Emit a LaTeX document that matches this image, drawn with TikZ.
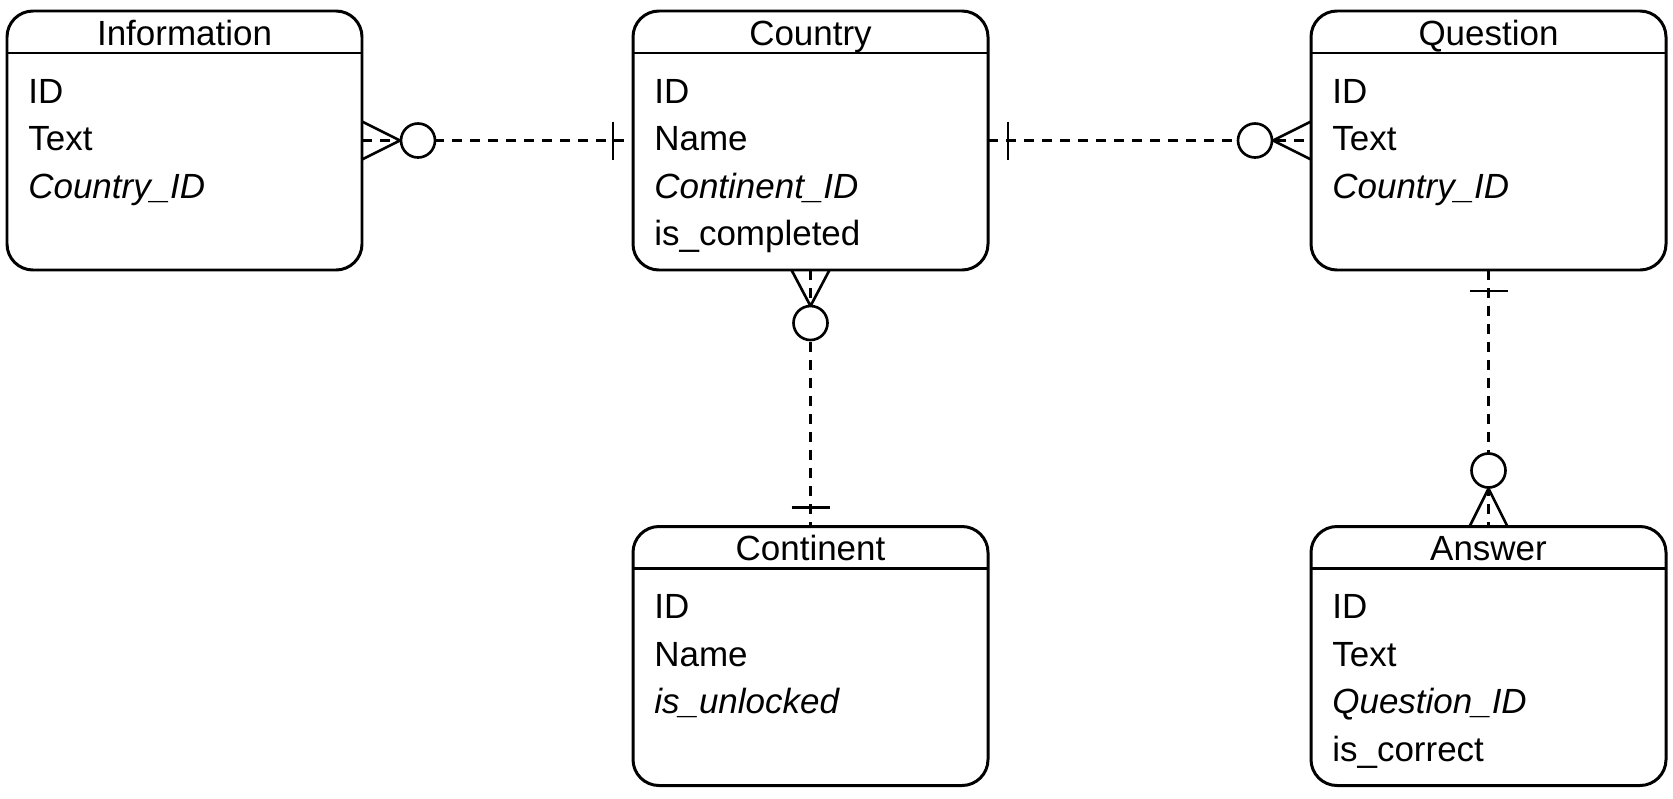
\documentclass[tikz,border=0pt]{standalone}
\usepackage{fontspec}
\setmainfont{Liberation Sans}

\begin{document}
\begin{tikzpicture}[
  entity/.style={rectangle, draw, rounded corners=0.52cm, line width=1.7pt, minimum width=7.1cm, minimum height=5.18cm, outer sep=0pt, inner sep=0pt},
  title/.style={inner sep=0pt, anchor=base, font=\fontsize{19.9}{24}\selectfont},
  attr/.style={inner sep=0pt, anchor=base west, font=\fontsize{19.9}{24}\selectfont},
  rel/.style={line width=1.5pt, dash pattern=on 0.2cm off 0.16cm},
  foot/.style={line width=1.5pt},
  zero/.style={circle, draw, fill=white, line width=1.5pt, minimum size=0.68cm, inner sep=0pt}
]
\path[use as bounding box, fill=white] (0,0) rectangle (33.46,-15.96);

% entities
\node[entity] (information) at (3.69,-2.81) {};
\node[entity] (country) at (16.21,-2.81) {};
\node[entity] (question) at (29.77,-2.81) {};
\node[entity] (continent) at (16.21,-13.12) {};
\node[entity] (answer) at (29.77,-13.12) {};

% headers
\foreach \e/\t in {information/Information, country/Country, question/Question, continent/Continent, answer/Answer} {
  \draw[line width=1.7pt] ([yshift=-0.84cm]\e.north west) -- ([yshift=-0.84cm]\e.north east);
  \node[title] (\e-title) at ([yshift=-0.68cm]\e.north) {\t};
}

% attributes
\foreach \a [count=\i] in {ID, Text, \textit{Country\_ID}}
  \node[attr] (information-\i) at ([xshift=0.42cm, yshift={-1.84cm-(\i-1)*0.95cm}]information.north west) {\a};
\foreach \a [count=\i] in {ID, Name, \textit{Continent\_ID}, is\_completed}
  \node[attr] (country-\i) at ([xshift=0.42cm, yshift={-1.84cm-(\i-1)*0.95cm}]country.north west) {\a};
\foreach \a [count=\i] in {ID, Text, \textit{Country\_ID}}
  \node[attr] (question-\i) at ([xshift=0.42cm, yshift={-1.84cm-(\i-1)*0.95cm}]question.north west) {\a};
\foreach \a [count=\i] in {ID, Name, \textit{is\_unlocked}}
  \node[attr] (continent-\i) at ([xshift=0.42cm, yshift={-1.84cm-(\i-1)*0.95cm}]continent.north west) {\a};
\foreach \a [count=\i] in {ID, Text, \textit{Question\_ID}, is\_correct}
  \node[attr] (answer-\i) at ([xshift=0.42cm, yshift={-1.84cm-(\i-1)*0.95cm}]answer.north west) {\a};

% relations
\draw[rel] (information) -- (country);
\draw[rel] (country) -- (question);
\draw[rel] (country) -- (continent);
\draw[rel] (question) -- (answer);

% information -- country
\draw[foot] ([yshift=0.38cm]information.east) -- ([xshift=0.76cm]information.east) -- ([yshift=-0.38cm]information.east);
\node[zero] (information-zero) at ([xshift=1.12cm]information.east) {};
\draw[foot] ([xshift=-0.4cm,yshift=0.38cm]country.west) -- ([xshift=-0.4cm,yshift=-0.38cm]country.west);

% country -- question
\draw[foot] ([xshift=0.4cm,yshift=0.38cm]country.east) -- ([xshift=0.4cm,yshift=-0.38cm]country.east);
\draw[foot] ([yshift=0.38cm]question.west) -- ([xshift=-0.76cm]question.west) -- ([yshift=-0.38cm]question.west);
\node[zero] (question-zero) at ([xshift=-1.12cm]question.west) {};

% country -- continent
\draw[foot] ([xshift=-0.38cm]country.south) -- ([yshift=-0.72cm]country.south) -- ([xshift=0.38cm]country.south);
\node[zero] (country-zero) at ([yshift=-1.06cm]country.south) {};
\draw[foot] ([xshift=-0.38cm,yshift=0.38cm]continent.north) -- ([xshift=0.38cm,yshift=0.38cm]continent.north);

% question -- answer
\draw[foot] ([xshift=-0.38cm,yshift=-0.42cm]question.south) -- ([xshift=0.38cm,yshift=-0.42cm]question.south);
\draw[foot] ([xshift=-0.38cm]answer.north) -- ([yshift=0.76cm]answer.north) -- ([xshift=0.38cm]answer.north);
\node[zero] (answer-zero) at ([yshift=1.12cm]answer.north) {};
\end{tikzpicture}
\end{document}
